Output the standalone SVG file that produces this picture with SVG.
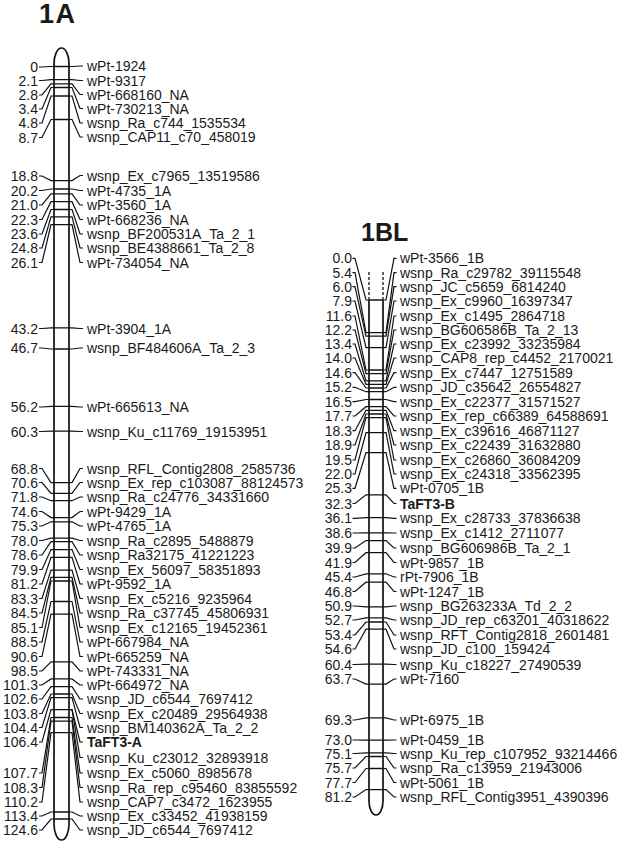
<svg xmlns="http://www.w3.org/2000/svg" width="630" height="845" viewBox="0 0 630 845">
<style>
text{font-family:"Liberation Sans",Arial,Helvetica,sans-serif;fill:#1a1a1a}
.lb{font-size:14px}
.e{text-anchor:end}
.b{font-weight:bold}
.t{font-size:25px;font-weight:bold}
.chr{fill:#fff;stroke:#111;stroke-width:1.7}
.mk{stroke:#111;stroke-width:1.3}
.cn{fill:none;stroke:#111;stroke-width:1.2}
.ds{stroke:#111;stroke-width:1.3;stroke-dasharray:3 2}
</style>
<rect width="630" height="845" fill="#fff"/>
<g id="chr-1A">
<text class="t" x="39" y="23" style="font-size:27px;letter-spacing:1.5px">1A</text>
<path class="chr" d="M54,64 A7.5,16 0 0 1 69,64 V824 A7.5,16 0 0 1 54,824 Z"/>
<g class="mk">
<path d="M54,66.5H69M54,79.7H69M54,83.9H69M54,87.5H69M54,96H69M54,119.5H69M54,180.6H69M54,189H69M54,193.8H69M54,201.7H69M54,209.5H69M54,216.8H69M54,224.6H69M54,327.9H69M54,349H69M54,406.4H69M54,431.2H69M54,482.6H69M54,493.4H69M54,500.7H69M54,517.6H69M54,521.8H69M54,538.1H69M54,541.7H69M54,549.6H69M54,557.4H69M54,570.1H69M54,577.4H69M54,581H69M54,601.5H69M54,614.2H69M54,661.9H69M54,678.9H69M54,686.7H69M54,694H69M54,697.6H69M54,709.7H69M54,717.5H69M54,721.1H69M54,732.6H69M54,812H69M54,819H69"/>
</g>
<g class="lb e">
<text x="38" y="72">0</text>
<text x="38" y="85.5">2.1</text>
<text x="38" y="100">2.8</text>
<text x="38" y="114">3.4</text>
<text x="38" y="128">4.8</text>
<text x="38" y="142.5">8.7</text>
<text x="38" y="181">18.8</text>
<text x="38" y="195.5">20.2</text>
<text x="38" y="210">21.0</text>
<text x="38" y="224.5">22.3</text>
<text x="38" y="239">23.6</text>
<text x="38" y="253">24.8</text>
<text x="38" y="267.5">26.1</text>
<text x="38" y="333.5">43.2</text>
<text x="38" y="353">46.7</text>
<text x="38" y="412">56.2</text>
<text x="38" y="436.5">60.3</text>
<text x="38" y="473.5">68.8</text>
<text x="38" y="487.5">70.6</text>
<text x="38" y="502">71.8</text>
<text x="38" y="516.5">74.6</text>
<text x="38" y="531">75.3</text>
<text x="38" y="545.5">78.0</text>
<text x="38" y="560">78.6</text>
<text x="38" y="574.5">79.9</text>
<text x="38" y="589">81.2</text>
<text x="38" y="603.5">83.3</text>
<text x="38" y="618">84.5</text>
<text x="38" y="632.5">85.1</text>
<text x="38" y="647">88.5</text>
<text x="38" y="661.5">90.6</text>
<text x="38" y="676">98.5</text>
<text x="38" y="690">101.3</text>
<text x="38" y="704">102.6</text>
<text x="38" y="718.5">103.8</text>
<text x="38" y="732.5">104.4</text>
<text x="38" y="747">106.4</text>
<text x="38" y="778">107.7</text>
<text x="38" y="792.5">108.3</text>
<text x="38" y="807">110.2</text>
<text x="38" y="821">113.4</text>
<text x="38" y="835">124.6</text>
</g>
<g class="lb">
<text x="87" y="71">wPt-1924</text>
<text x="87" y="85.5">wPt-9317</text>
<text x="87" y="99.5">wPt-668160_NA</text>
<text x="87" y="113.5">wPt-730213_NA</text>
<text x="87" y="128">wsnp_Ra_c744_1535534</text>
<text x="87" y="142">wsnp_CAP11_c70_458019</text>
<text x="87" y="180.5">wsnp_Ex_c7965_13519586</text>
<text x="87" y="195.5">wPt-4735_1A</text>
<text x="87" y="210">wPt-3560_1A</text>
<text x="87" y="224.5">wPt-668236_NA</text>
<text x="87" y="239">wsnp_BF200531A_Ta_2_1</text>
<text x="87" y="253">wsnp_BE4388661_Ta_2_8</text>
<text x="87" y="267.5">wPt-734054_NA</text>
<text x="87" y="333.5">wPt-3904_1A</text>
<text x="87" y="353">wsnp_BF484606A_Ta_2_3</text>
<text x="87" y="412">wPt-665613_NA</text>
<text x="87" y="436.5">wsnp_Ku_c11769_19153951</text>
<text x="87" y="473.5">wsnp_RFL_Contig2808_2585736</text>
<text x="87" y="487.5">wsnp_Ex_rep_c103087_88124573</text>
<text x="87" y="502">wsnp_Ra_c24776_34331660</text>
<text x="87" y="516.5">wPt-9429_1A</text>
<text x="87" y="531">wPt-4765_1A</text>
<text x="87" y="545.5">wsnp_Ra_c2895_5488879</text>
<text x="87" y="560">wsnp_Ra32175_41221223</text>
<text x="87" y="574.5">wsnp_Ex_56097_58351893</text>
<text x="87" y="589">wPt-9592_1A</text>
<text x="87" y="603.5">wsnp_Ex_c5216_9235964</text>
<text x="87" y="618">wsnp_Ra_c37745_45806931</text>
<text x="87" y="632.5">wsnp_Ex_c12165_19452361</text>
<text x="87" y="647">wPt-667984_NA</text>
<text x="87" y="661.5">wPt-665259_NA</text>
<text x="87" y="676">wPt-743331_NA</text>
<text x="87" y="690">wPt-664972_NA</text>
<text x="87" y="704">wsnp_JD_c6544_7697412</text>
<text x="87" y="718.5">wsnp_Ex_c20489_29564938</text>
<text x="87" y="732.5">wsnp_BM140362A_Ta_2_2</text>
<text x="87" y="747" class="b">TaFT3-A</text>
<text x="87" y="762.5">wsnp_Ku_c23012_32893918</text>
<text x="87" y="778">wsnp_Ex_c5060_8985678</text>
<text x="87" y="792.5">wsnp_Ra_rep_c95460_83855592</text>
<text x="87" y="807">wsnp_CAP7_c3472_1623955</text>
<text x="87" y="821">wsnp_Ex_c33452_41938159</text>
<text x="87" y="835">wsnp_JD_c6544_7697412</text>
</g>
</g>
<g id="chr-1BL">
<text class="t" x="361" y="241">1BL</text>
<path class="ds" d="M369,272V299M383,272V299"/>
<path class="chr" d="M369,300 H383 V801 A7,14 0 0 1 369,801 Z"/>
<g class="mk">
<path d="M369,332.6H383M369,336.2H383M369,347.6H383M369,370H383M369,373.6H383M369,380.8H383M369,384.4H383M369,388H383M369,391.7H383M369,399.5H383M369,406.7H383M369,410.3H383M369,414H383M369,417.6H383M369,432.7H383M369,452.6H383M369,494.8H383M369,517.7H383M369,532.8H383M369,540.6H383M369,552.7H383M369,573.8H383M369,582.2H383M369,606.9H383M369,617.8H383M369,622H383M369,629.2H383M369,664.2H383M369,684.1H383M369,717.9H383M369,740.2H383M369,752.9H383M369,756.5H383M369,768.5H383M369,789.6H383"/>
</g>
<g class="lb e">
<text x="352" y="263.3">0.0</text>
<text x="352" y="277.7">5.4</text>
<text x="352" y="291.7">6.0</text>
<text x="352" y="306">7.9</text>
<text x="352" y="321">11.6</text>
<text x="352" y="335">12.2</text>
<text x="352" y="349">13.4</text>
<text x="352" y="363">14.0</text>
<text x="352" y="377.7">14.6</text>
<text x="352" y="392.3">15.2</text>
<text x="352" y="406.7">16.5</text>
<text x="352" y="421">17.7</text>
<text x="352" y="435.7">18.3</text>
<text x="352" y="450">18.9</text>
<text x="352" y="465">19.5</text>
<text x="352" y="479">22.0</text>
<text x="352" y="493.3">25.3</text>
<text x="352" y="508.5">32.3</text>
<text x="352" y="523.3">36.1</text>
<text x="352" y="538">38.6</text>
<text x="352" y="553">39.9</text>
<text x="352" y="567.5">41.9</text>
<text x="352" y="582">45.4</text>
<text x="352" y="596.5">46.8</text>
<text x="352" y="611">50.9</text>
<text x="352" y="625">52.7</text>
<text x="352" y="640">53.4</text>
<text x="352" y="654">54.6</text>
<text x="352" y="669.5">60.4</text>
<text x="352" y="684">63.7</text>
<text x="352" y="725">69.3</text>
<text x="352" y="745">73.0</text>
<text x="352" y="758.5">75.1</text>
<text x="352" y="773">75.7</text>
<text x="352" y="787.5">77.7</text>
<text x="352" y="802">81.2</text>
</g>
<g class="lb">
<text x="400" y="263.3">wPt-3566_1B</text>
<text x="400" y="277.7">wsnp_Ra_c29782_39115548</text>
<text x="400" y="291.7">wsnp_JC_c5659_6814240</text>
<text x="400" y="306">wsnp_Ex_c9960_16397347</text>
<text x="400" y="321">wsnp_Ex_c1495_2864718</text>
<text x="400" y="335">wsnp_BG606586B_Ta_2_13</text>
<text x="400" y="349">wsnp_Ex_c23992_33235984</text>
<text x="400" y="363">wsnp_CAP8_rep_c4452_2170021</text>
<text x="400" y="377.7">wsnp_Ex_c7447_12751589</text>
<text x="400" y="392.3">wsnp_JD_c35642_26554827</text>
<text x="400" y="406.7">wsnp_Ex_c22377_31571527</text>
<text x="400" y="421">wsnp_Ex_rep_c66389_64588691</text>
<text x="400" y="435.7">wsnp_Ex_c39616_46871127</text>
<text x="400" y="450">wsnp_Ex_c22439_31632880</text>
<text x="400" y="465">wsnp_Ex_c26860_36084209</text>
<text x="400" y="479">wsnp_Ex_c24318_33562395</text>
<text x="400" y="493.3">wPt-0705_1B</text>
<text x="400" y="508.5" class="b">TaFT3-B</text>
<text x="400" y="523.3">wsnp_Ex_c28733_37836638</text>
<text x="400" y="538">wsnp_Ex_c1412_2711077</text>
<text x="400" y="553">wsnp_BG606986B_Ta_2_1</text>
<text x="400" y="567.5">wPt-9857_1B</text>
<text x="400" y="582">rPt-7906_1B</text>
<text x="400" y="596.5">wPt-1247_1B</text>
<text x="400" y="611">wsnp_BG263233A_Td_2_2</text>
<text x="400" y="625">wsnp_JD_rep_c63201_40318622</text>
<text x="400" y="640">wsnp_RFT_Contig2818_2601481</text>
<text x="400" y="654">wsnp_JD_c100_159424</text>
<text x="400" y="669.5">wsnp_Ku_c18227_27490539</text>
<text x="400" y="684">wPt-7160</text>
<text x="400" y="725">wPt-6975_1B</text>
<text x="400" y="745">wPt-0459_1B</text>
<text x="400" y="758.5">wsnp_Ku_rep_c107952_93214466</text>
<text x="400" y="773">wsnp_Ra_c13959_21943006</text>
<text x="400" y="787.5">wPt-5061_1B</text>
<text x="400" y="802">wsnp_RFL_Contig3951_4390396</text>
</g>
</g>
<g id="connectors" class="cn">
<polyline points="39,67 42,67 51,66.5 54,66.5"/>
<polyline points="39,80.5 42,80.5 51,79.7 54,79.7"/>
<polyline points="39,95 42,95 51,83.9 54,83.9"/>
<polyline points="39,109 42,109 51,87.5 54,87.5"/>
<polyline points="39,123 42,123 51,96 54,96"/>
<polyline points="39,137.5 42,137.5 51,119.5 54,119.5"/>
<polyline points="39,176 42,176 51,180.6 54,180.6"/>
<polyline points="39,190.5 42,190.5 51,189 54,189"/>
<polyline points="39,205 42,205 51,193.8 54,193.8"/>
<polyline points="39,219.5 42,219.5 51,201.7 54,201.7"/>
<polyline points="39,234 42,234 51,209.5 54,209.5"/>
<polyline points="39,248 42,248 51,216.8 54,216.8"/>
<polyline points="39,262.5 42,262.5 51,224.6 54,224.6"/>
<polyline points="39,328.5 42,328.5 51,327.9 54,327.9"/>
<polyline points="39,348 42,348 51,349 54,349"/>
<polyline points="39,407 42,407 51,406.4 54,406.4"/>
<polyline points="39,431.5 42,431.5 51,431.2 54,431.2"/>
<polyline points="39,468.5 42,468.5 51,482.6 54,482.6"/>
<polyline points="39,482.5 42,482.5 51,493.4 54,493.4"/>
<polyline points="39,497 42,497 51,500.7 54,500.7"/>
<polyline points="39,511.5 42,511.5 51,517.6 54,517.6"/>
<polyline points="39,526 42,526 51,521.8 54,521.8"/>
<polyline points="39,540.5 42,540.5 51,538.1 54,538.1"/>
<polyline points="39,555 42,555 51,541.7 54,541.7"/>
<polyline points="39,569.5 42,569.5 51,549.6 54,549.6"/>
<polyline points="39,584 42,584 51,557.4 54,557.4"/>
<polyline points="39,598.5 42,598.5 51,570.1 54,570.1"/>
<polyline points="39,613 42,613 51,577.4 54,577.4"/>
<polyline points="39,627.5 42,627.5 51,581 54,581"/>
<polyline points="39,642 42,642 51,601.5 54,601.5"/>
<polyline points="39,656.5 42,656.5 51,614.2 54,614.2"/>
<polyline points="39,671 42,671 51,661.9 54,661.9"/>
<polyline points="39,685 42,685 51,678.9 54,678.9"/>
<polyline points="39,699 42,699 51,686.7 54,686.7"/>
<polyline points="39,713.5 42,713.5 51,694 54,694"/>
<polyline points="39,727.5 42,727.5 51,697.6 54,697.6"/>
<polyline points="39,742 42,742 51,709.7 54,709.7"/>
<polyline points="39,773 42,773 51,717.5 54,717.5"/>
<polyline points="39,787.5 42,787.5 51,721.1 54,721.1"/>
<polyline points="39,802 42,802 51,732.6 54,732.6"/>
<polyline points="39,816 42,816 51,812 54,812"/>
<polyline points="39,830 42,830 51,819 54,819"/>
<polyline points="69,66.5 72,66.5 80,66 83,66"/>
<polyline points="69,79.7 72,79.7 80,80.5 83,80.5"/>
<polyline points="69,83.9 72,83.9 80,94.5 83,94.5"/>
<polyline points="69,87.5 72,87.5 80,108.5 83,108.5"/>
<polyline points="69,96 72,96 80,123 83,123"/>
<polyline points="69,119.5 72,119.5 80,137 83,137"/>
<polyline points="69,180.6 72,180.6 80,175.5 83,175.5"/>
<polyline points="69,189 72,189 80,190.5 83,190.5"/>
<polyline points="69,193.8 72,193.8 80,205 83,205"/>
<polyline points="69,201.7 72,201.7 80,219.5 83,219.5"/>
<polyline points="69,209.5 72,209.5 80,234 83,234"/>
<polyline points="69,216.8 72,216.8 80,248 83,248"/>
<polyline points="69,224.6 72,224.6 80,262.5 83,262.5"/>
<polyline points="69,327.9 72,327.9 80,328.5 83,328.5"/>
<polyline points="69,349 72,349 80,348 83,348"/>
<polyline points="69,406.4 72,406.4 80,407 83,407"/>
<polyline points="69,431.2 72,431.2 80,431.5 83,431.5"/>
<polyline points="69,482.6 72,482.6 80,468.5 83,468.5"/>
<polyline points="69,493.4 72,493.4 80,482.5 83,482.5"/>
<polyline points="69,500.7 72,500.7 80,497 83,497"/>
<polyline points="69,517.6 72,517.6 80,511.5 83,511.5"/>
<polyline points="69,521.8 72,521.8 80,526 83,526"/>
<polyline points="69,538.1 72,538.1 80,540.5 83,540.5"/>
<polyline points="69,541.7 72,541.7 80,555 83,555"/>
<polyline points="69,549.6 72,549.6 80,569.5 83,569.5"/>
<polyline points="69,557.4 72,557.4 80,584 83,584"/>
<polyline points="69,570.1 72,570.1 80,598.5 83,598.5"/>
<polyline points="69,577.4 72,577.4 80,613 83,613"/>
<polyline points="69,581 72,581 80,627.5 83,627.5"/>
<polyline points="69,601.5 72,601.5 80,642 83,642"/>
<polyline points="69,614.2 72,614.2 80,656.5 83,656.5"/>
<polyline points="69,661.9 72,661.9 80,671 83,671"/>
<polyline points="69,678.9 72,678.9 80,685 83,685"/>
<polyline points="69,686.7 72,686.7 80,699 83,699"/>
<polyline points="69,694 72,694 80,713.5 83,713.5"/>
<polyline points="69,697.6 72,697.6 80,727.5 83,727.5"/>
<polyline points="69,709.7 72,709.7 80,742 83,742"/>
<polyline points="69,709.7 72,709.7 80,757.5 83,757.5"/>
<polyline points="69,717.5 72,717.5 80,773 83,773"/>
<polyline points="69,721.1 72,721.1 80,787.5 83,787.5"/>
<polyline points="69,732.6 72,732.6 80,802 83,802"/>
<polyline points="69,812 72,812 80,816 83,816"/>
<polyline points="69,819 72,819 80,830 83,830"/>
<polyline points="352.5,258.3 355,258.3 366,300 369,300"/>
<polyline points="352.5,272.7 355,272.7 366,332.6 369,332.6"/>
<polyline points="352.5,286.7 355,286.7 366,336.2 369,336.2"/>
<polyline points="352.5,301 355,301 366,347.6 369,347.6"/>
<polyline points="352.5,316 355,316 366,370 369,370"/>
<polyline points="352.5,330 355,330 366,373.6 369,373.6"/>
<polyline points="352.5,344 355,344 366,380.8 369,380.8"/>
<polyline points="352.5,358 355,358 366,384.4 369,384.4"/>
<polyline points="352.5,372.7 355,372.7 366,388 369,388"/>
<polyline points="352.5,387.3 355,387.3 366,391.7 369,391.7"/>
<polyline points="352.5,401.7 355,401.7 366,399.5 369,399.5"/>
<polyline points="352.5,416 355,416 366,406.7 369,406.7"/>
<polyline points="352.5,430.7 355,430.7 366,410.3 369,410.3"/>
<polyline points="352.5,445 355,445 366,414 369,414"/>
<polyline points="352.5,460 355,460 366,417.6 369,417.6"/>
<polyline points="352.5,474 355,474 366,432.7 369,432.7"/>
<polyline points="352.5,488.3 355,488.3 366,452.6 369,452.6"/>
<polyline points="352.5,503.5 355,503.5 366,494.8 369,494.8"/>
<polyline points="352.5,518.3 355,518.3 366,517.7 369,517.7"/>
<polyline points="352.5,533 355,533 366,532.8 369,532.8"/>
<polyline points="352.5,548 355,548 366,540.6 369,540.6"/>
<polyline points="352.5,562.5 355,562.5 366,552.7 369,552.7"/>
<polyline points="352.5,577 355,577 366,573.8 369,573.8"/>
<polyline points="352.5,591.5 355,591.5 366,582.2 369,582.2"/>
<polyline points="352.5,606 355,606 366,606.9 369,606.9"/>
<polyline points="352.5,620 355,620 366,617.8 369,617.8"/>
<polyline points="352.5,635 355,635 366,622 369,622"/>
<polyline points="352.5,649 355,649 366,629.2 369,629.2"/>
<polyline points="352.5,664.5 355,664.5 366,664.2 369,664.2"/>
<polyline points="352.5,679 355,679 366,684.1 369,684.1"/>
<polyline points="352.5,720 355,720 366,717.9 369,717.9"/>
<polyline points="352.5,740 355,740 366,740.2 369,740.2"/>
<polyline points="352.5,753.5 355,753.5 366,752.9 369,752.9"/>
<polyline points="352.5,768 355,768 366,756.5 369,756.5"/>
<polyline points="352.5,782.5 355,782.5 366,768.5 369,768.5"/>
<polyline points="352.5,797 355,797 366,789.6 369,789.6"/>
<polyline points="383,300 386,300 394,258.3 396.5,258.3"/>
<polyline points="383,332.6 386,332.6 394,272.7 396.5,272.7"/>
<polyline points="383,336.2 386,336.2 394,286.7 396.5,286.7"/>
<polyline points="383,347.6 386,347.6 394,301 396.5,301"/>
<polyline points="383,370 386,370 394,316 396.5,316"/>
<polyline points="383,373.6 386,373.6 394,330 396.5,330"/>
<polyline points="383,380.8 386,380.8 394,344 396.5,344"/>
<polyline points="383,384.4 386,384.4 394,358 396.5,358"/>
<polyline points="383,388 386,388 394,372.7 396.5,372.7"/>
<polyline points="383,391.7 386,391.7 394,387.3 396.5,387.3"/>
<polyline points="383,399.5 386,399.5 394,401.7 396.5,401.7"/>
<polyline points="383,406.7 386,406.7 394,416 396.5,416"/>
<polyline points="383,410.3 386,410.3 394,430.7 396.5,430.7"/>
<polyline points="383,414 386,414 394,445 396.5,445"/>
<polyline points="383,417.6 386,417.6 394,460 396.5,460"/>
<polyline points="383,432.7 386,432.7 394,474 396.5,474"/>
<polyline points="383,452.6 386,452.6 394,488.3 396.5,488.3"/>
<polyline points="383,494.8 386,494.8 394,503.5 396.5,503.5"/>
<polyline points="383,517.7 386,517.7 394,518.3 396.5,518.3"/>
<polyline points="383,532.8 386,532.8 394,533 396.5,533"/>
<polyline points="383,540.6 386,540.6 394,548 396.5,548"/>
<polyline points="383,552.7 386,552.7 394,562.5 396.5,562.5"/>
<polyline points="383,573.8 386,573.8 394,577 396.5,577"/>
<polyline points="383,582.2 386,582.2 394,591.5 396.5,591.5"/>
<polyline points="383,606.9 386,606.9 394,606 396.5,606"/>
<polyline points="383,617.8 386,617.8 394,620 396.5,620"/>
<polyline points="383,622 386,622 394,635 396.5,635"/>
<polyline points="383,629.2 386,629.2 394,649 396.5,649"/>
<polyline points="383,664.2 386,664.2 394,664.5 396.5,664.5"/>
<polyline points="383,684.1 386,684.1 394,679 396.5,679"/>
<polyline points="383,717.9 386,717.9 394,720 396.5,720"/>
<polyline points="383,740.2 386,740.2 394,740 396.5,740"/>
<polyline points="383,752.9 386,752.9 394,753.5 396.5,753.5"/>
<polyline points="383,756.5 386,756.5 394,768 396.5,768"/>
<polyline points="383,768.5 386,768.5 394,782.5 396.5,782.5"/>
<polyline points="383,789.6 386,789.6 394,797 396.5,797"/>
</g>
</svg>
